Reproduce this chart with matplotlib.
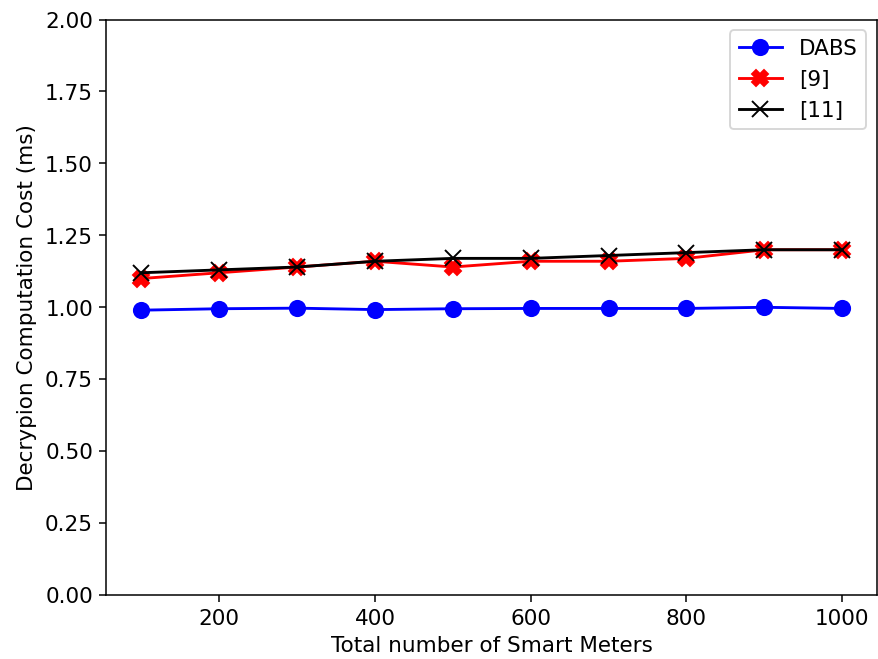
import matplotlib
matplotlib.use('Agg')
import matplotlib.pyplot as plt

meters = [100, 200, 300, 400, 500, 600, 700, 800, 900, 1000]
dabs = [0.99, 0.995, 0.997, 0.992, 0.995, 0.996, 0.996, 0.996, 1.0, 0.996]
ref9 = [1.10, 1.12, 1.14, 1.16, 1.14, 1.16, 1.16, 1.17, 1.20, 1.20]
ref11 = [1.12, 1.13, 1.14, 1.16, 1.17, 1.17, 1.18, 1.19, 1.20, 1.20]

plt.rcParams['font.size'] = 11.3
fig, ax = plt.subplots(figsize=(6.4, 4.8), dpi=137.34)
ax.plot(meters, dabs, color='blue', marker='o', markersize=8, label='DABS')
ax.plot(meters, ref9, color='red', marker='X', markersize=8, label='[9]')
ax.plot(meters, ref11, color='black', marker='x', markersize=8, label='[11]')
ax.set_ylim(0, 2.0)
ax.set_yticks([0, 0.25, 0.5, 0.75, 1.0, 1.25, 1.5, 1.75, 2.0])
ax.set_xlabel('Total number of Smart Meters')
ax.set_ylabel('Decrypion Computation Cost (ms)')
ax.legend(loc='upper right')
plt.subplots_adjust(left=0.121, right=0.998, top=0.97, bottom=0.097)
plt.savefig('out.png')
